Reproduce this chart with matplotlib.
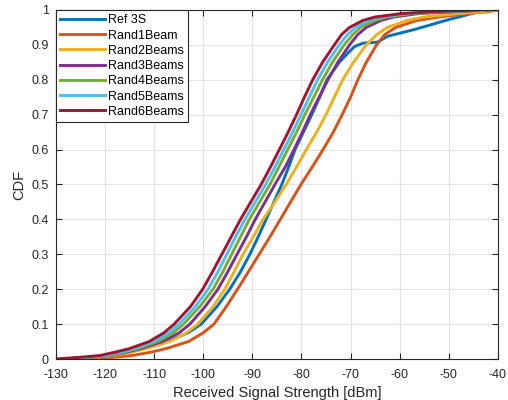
"""
CDF of received signal strength: reference 3-sector vs. random beam selection.
"""

import matplotlib.pyplot as plt
from matplotlib.ticker import FormatStrFormatter

plt.rcParams["font.family"] = ["Liberation Sans", "DejaVu Sans"]
plt.rcParams["axes.unicode_minus"] = False

# CDF levels, shared by the Rand* curves
cdf_levels = [0, 0.005, 0.01, 0.02, 0.03, 0.05, 0.075, 0.1, 0.15, 0.2, 0.25,
              0.3, 0.35, 0.4, 0.45, 0.5, 0.55, 0.6, 0.65, 0.7, 0.75, 0.8,
              0.85, 0.9, 0.93, 0.95, 0.97, 0.98, 0.99, 0.995, 1.0]

# signal strength (dBm) at each CDF level
rand1 = [-124, -118, -114.5, -110.5, -107.5, -103.0, -100.0, -97.8, -95.3, -93.0,
         -90.8, -88.6, -86.4, -84.3, -82.2, -80.1, -77.8, -75.6, -73.5, -71.7,
         -70.0, -68.5, -66.8, -64.7, -63.0, -60.8, -56.5, -52, -46, -42, -40]
rand2 = [-127, -121.5, -118, -114.5, -111.5, -106.8, -103.4, -101.1, -98.0, -95.6,
         -93.7, -91.9, -89.8, -87.8, -85.4, -83.1, -81.0, -79.0, -76.9, -75.0,
         -73.3, -71.6, -69.4, -66.8, -64.6, -62.5, -58.5, -55, -48, -43, -41]
rand3 = [-128, -122.5, -119, -115.5, -112.7, -108.3, -104.9, -102.7, -99.6, -97.0,
         -95.0, -93.1, -91.2, -89.4, -87.4, -85.4, -83.3, -81.5, -79.8, -78.2,
         -76.4, -74.6, -72.6, -70.2, -68.5, -66.8, -63.8, -61.2, -56, -49, -42]
rand4 = [-128.5, -123, -119.5, -116, -113.3, -109.2, -106.1, -104.0, -100.7, -98.0,
         -96.0, -94.2, -92.4, -90.6, -88.5, -86.4, -84.6, -82.8, -81.0, -79.3,
         -77.5, -75.7, -73.7, -71.3, -69.5, -68.0, -65.0, -62.5, -57.5, -51, -43]
rand5 = [-129, -123.5, -120, -116.5, -114.0, -110.0, -107.0, -104.9, -101.6, -99.0,
         -97.0, -95.2, -93.4, -91.5, -89.4, -87.3, -85.4, -83.6, -81.8, -80.1,
         -78.4, -76.7, -74.7, -72.3, -70.6, -69.0, -66.3, -63.8, -58.5, -52, -43]
rand6 = [-130, -125, -121, -117.8, -115.0, -111.0, -108.0, -105.9, -102.6, -100.1,
         -98.1, -96.2, -94.3, -92.4, -90.3, -88.2, -86.3, -84.5, -82.7, -81.0,
         -79.4, -77.7, -75.7, -73.3, -71.8, -70.2, -67.5, -65.0, -59.5, -53, -44]

# the reference curve has a plateau near 0.9, so it gets its own levels
ref_levels = [0, 0.005, 0.01, 0.02, 0.03, 0.05, 0.075, 0.1, 0.15, 0.2, 0.25,
              0.3, 0.35, 0.4, 0.45, 0.5, 0.55, 0.6, 0.65, 0.7, 0.75, 0.8,
              0.85, 0.88, 0.895, 0.905, 0.908, 0.925, 0.943, 0.957, 0.971,
              0.986, 0.997, 1.0]
ref3s = [-128, -122, -118.5, -115, -112.2, -107.5, -103.1, -100.4, -97.2, -94.6,
         -92.4, -90.5, -88.8, -87.2, -85.6, -84.0, -82.6, -81.3, -79.6, -77.9,
         -76.3, -74.8, -72.3, -70.3, -69.2, -67.5, -64.5, -62.4, -57.3, -53.8,
         -50.4, -46.3, -43.7, -42]

labels = ["Ref 3S", "Rand1Beam", "Rand2Beams", "Rand3Beams",
          "Rand4Beams", "Rand5Beams", "Rand6Beams"]
colors = ["#0072BD", "#D95319", "#EDB120", "#7E2F8E",
          "#77AC30", "#4DBEEE", "#A2142F"]

fig = plt.figure(figsize=(5.08, 4.0), dpi=100)
ax = fig.add_axes([0.110, 0.1025, 0.870, 0.8725])

ax.plot(ref3s, ref_levels, c=colors[0], lw=2.1, label=labels[0])
for series, color, label in zip([rand1, rand2, rand3, rand4, rand5, rand6],
                                colors[1:], labels[1:]):
    ax.plot(series, cdf_levels, c=color, lw=2.1, label=label)

ax.set_xlim(-130, -40)
ax.set_ylim(0, 1)
ax.set_xticks(range(-130, -39, 10))
ax.set_yticks([i / 10 for i in range(11)])
ax.yaxis.set_major_formatter(FormatStrFormatter("%g"))
ax.grid(True, color="#e3e3e3", lw=0.8)
ax.set_axisbelow(True)
ax.tick_params(direction="in", top=True, right=True, length=4,
               labelsize=9, colors="#262626")
ax.tick_params(axis="x", pad=7)
ax.tick_params(axis="y", pad=5)
for spine in ax.spines.values():
    spine.set_color("#262626")
    spine.set_linewidth(0.8)

ax.set_xlabel("Received Signal Strength [dBm]", fontsize=10.5, color="#262626",
              labelpad=4)
ax.set_ylabel("CDF", fontsize=10.5, color="#262626", labelpad=4)

leg = ax.legend(loc="upper left", fontsize=9, frameon=True, fancybox=False,
                borderaxespad=0, handlelength=3.6, handletextpad=0.2,
                labelspacing=0.26, borderpad=0.35)
leg.get_frame().set_edgecolor("#262626")
leg.get_frame().set_linewidth(0.8)
leg.get_frame().set_alpha(1)

plt.savefig("out.png", dpi=100)
